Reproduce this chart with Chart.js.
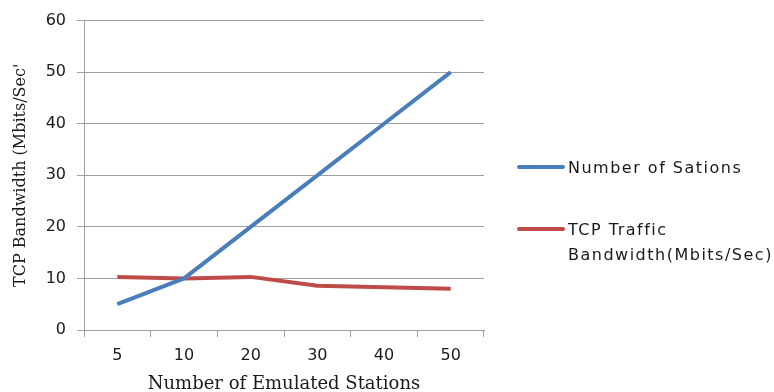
<!DOCTYPE html>
<html>
<head>
<meta charset="utf-8">
<script src="https://cdn.jsdelivr.net/npm/chart.js@4.4.0/dist/chart.umd.min.js"></script>
<style>
  html, body { margin: 0; padding: 0; background: #fff; overflow: hidden; }
  #wrap { position: relative; width: 774px; height: 396px; }
  #legend { position: absolute; left: 0; top: 0; font-family: "DejaVu Sans", sans-serif; font-size: 16px; color: #1a1a1a; letter-spacing: 1.5px; }
  .item { position: absolute; white-space: nowrap; line-height: 25px; }
  .swatch { position: absolute; width: 48px; height: 4px; border-radius: 2px; }
</style>
</head>
<body>
<div id="wrap">
  <canvas id="chart" width="774" height="396"></canvas>
  <div id="legend"></div>
</div>
<script>
const categories = ['5', '10', '20', '30', '40', '50'];
const stationsSeries = [5, 10, 20, 30, 40, 50];
const bandwidthSeries = [10.3, 10.0, 10.3, 8.6, 8.3, 8.0];
const yTicks = [0, 10, 20, 30, 40, 50, 60];

const seriesNames = ['Number of Sations', ['TCP Traffic', 'Bandwidth(Mbits/Sec)']];
const seriesColors = ['#4a7ebb', '#be4b48'];
const gridColor = '#a0a0a0';
const textColor = '#1a1a1a';

document.addEventListener('DOMContentLoaded', function () {
    const ctx = document.getElementById('chart').getContext('2d');
    const chart = new Chart(ctx, {
        type: 'line',
        data: {
            labels: categories,
            datasets: [{
                label: 'Number of Sations',
                data: stationsSeries,
                borderColor: seriesColors[0],
                borderWidth: 4,
                pointRadius: 0,
                tension: 0
            }, {
                label: 'TCP Traffic Bandwidth(Mbits/Sec)',
                data: bandwidthSeries,
                borderColor: seriesColors[1],
                borderWidth: 4,
                pointRadius: 0,
                tension: 0
            }]
        },
        options: {
            responsive: false,
            animation: false,
            layout: {
                padding: { top: 10, right: 290, bottom: 0, left: 0 }
            },
            plugins: {
                legend: { display: false },
                tooltip: { enabled: false }
            },
            scales: {
                x: {
                    offset: true,
                    grid: {
                        offset: true,
                        drawOnChartArea: false,
                        drawTicks: true,
                        tickLength: 7,
                        color: gridColor
                    },
                    border: { color: gridColor },
                    ticks: {
                        color: textColor,
                        padding: 9,
                        font: { family: 'DejaVu Sans', size: 16 }
                    },
                    title: {
                        display: true,
                        text: 'Number of Emulated Stations',
                        color: textColor,
                        padding: { top: 0, bottom: 1 },
                        font: { family: 'DejaVu Serif', size: 18 }
                    },
                    afterFit: scale => { scale.height = 66; }
                },
                y: {
                    min: 0,
                    max: 60,
                    afterBuildTicks: scale => {
                        scale.ticks = yTicks.map(v => ({ value: v }));
                    },
                    grid: {
                        color: gridColor,
                        tickLength: 7
                    },
                    border: { color: gridColor },
                    ticks: {
                        color: textColor,
                        padding: 11,
                        font: { family: 'DejaVu Sans', size: 16 }
                    },
                    title: {
                        display: true,
                        text: 'TCP Bandwidth (Mbits/Sec\'',
                        color: textColor,
                        padding: { top: 11, bottom: 0 },
                        font: { family: 'DejaVu Serif', size: 16 }
                    },
                    afterFit: scale => { scale.width = 84; }
                }
            }
        }
    });

    // legend drawn as html, placed to the right of the plot
    const legend = document.getElementById('legend');
    const legendTops = [167, 229];
    seriesNames.forEach((name, i) => {
        const sw = document.createElement('div');
        sw.className = 'swatch';
        sw.style.background = seriesColors[i];
        sw.style.left = '517px';
        sw.style.top = (legendTops[i] - 2) + 'px';
        legend.appendChild(sw);

        const item = document.createElement('div');
        item.className = 'item';
        item.style.left = '568px';
        item.style.top = (legendTops[i] - 12.5) + 'px';
        item.innerHTML = [].concat(name).join('<br>');
        legend.appendChild(item);
    });
});
</script>
</body>
</html>
